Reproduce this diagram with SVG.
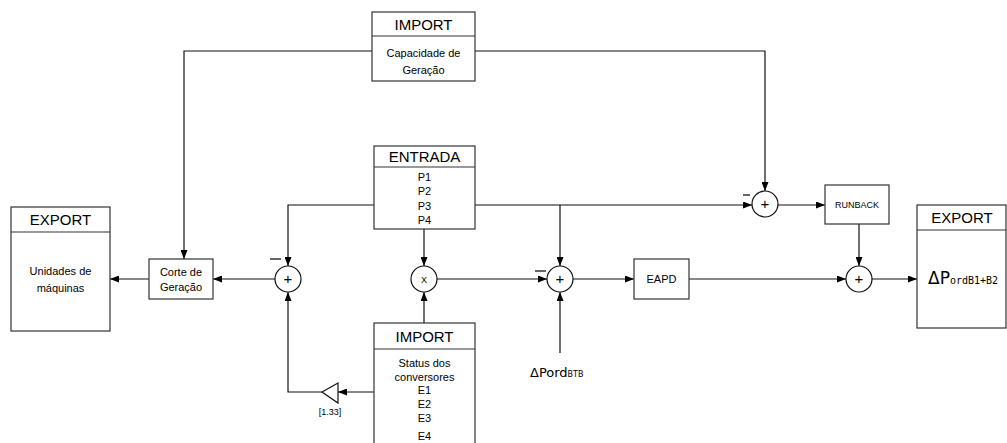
<svg xmlns="http://www.w3.org/2000/svg" width="1007" height="443" viewBox="0 0 1007 443">
<style>
.box{fill:#fff;stroke:#333;stroke-width:1.2}
.ln{fill:none;stroke:#111;stroke-width:1.2}
.c{fill:#fff;stroke:#111;stroke-width:1.2}
.h{font-family:"Liberation Sans",Arial,sans-serif;font-size:15px;text-anchor:middle;fill:#000}
.t{font-family:"Liberation Sans",Arial,sans-serif;font-size:11px;text-anchor:middle;fill:#000}
.s{font-family:"Liberation Sans",Arial,sans-serif;font-size:9px;text-anchor:middle;fill:#000}
.op{font-family:"Liberation Sans",Arial,sans-serif;font-size:15px;text-anchor:middle;fill:#000}
.m{stroke:#000;stroke-width:1.2}
</style>
<defs>
<marker id="ar" markerWidth="9" markerHeight="7" refX="9" refY="3.5" orient="auto" markerUnits="userSpaceOnUse">
<path d="M0,0 L9,3.5 L0,7 z" fill="#000"/>
</marker>
</defs>
<g id="connectors">
<polyline class="ln" points="372,51 184,51 184,259" marker-end="url(#ar)"/>
<polyline class="ln" points="475,51 765,51 765,191" marker-end="url(#ar)"/>
<polyline class="ln" points="374,205 288,205 288,266" marker-end="url(#ar)"/>
<polyline class="ln" points="475,205 752,205" marker-end="url(#ar)"/>
<polyline class="ln" points="560,205 560,266" marker-end="url(#ar)"/>
<line class="ln" x1="424" y1="229" x2="424" y2="266" marker-end="url(#ar)"/>
<line class="ln" x1="424" y1="323" x2="424" y2="292" marker-end="url(#ar)"/>
<line class="ln" x1="437" y1="279" x2="547" y2="279" marker-end="url(#ar)"/>
<line class="ln" x1="560" y1="353" x2="560" y2="292" marker-end="url(#ar)"/>
<line class="ln" x1="573" y1="279" x2="634" y2="279" marker-end="url(#ar)"/>
<line class="ln" x1="689" y1="279" x2="846" y2="279" marker-end="url(#ar)"/>
<line class="ln" x1="778" y1="205" x2="825" y2="205" marker-end="url(#ar)"/>
<line class="ln" x1="859" y1="224" x2="859" y2="266" marker-end="url(#ar)"/>
<line class="ln" x1="872" y1="279" x2="917" y2="279" marker-end="url(#ar)"/>
<line class="ln" x1="275" y1="279" x2="213" y2="279" marker-end="url(#ar)"/>
<line class="ln" x1="149" y1="279" x2="110" y2="279" marker-end="url(#ar)"/>
<line class="ln" x1="374" y1="392" x2="338" y2="392" marker-end="url(#ar)"/>
<polyline class="ln" points="322,392 288,392 288,292" marker-end="url(#ar)"/>
</g>
<g id="import-capacidade">
<rect class="box" x="372" y="12" width="103" height="69"/>
<line class="box" x1="372" y1="36" x2="475" y2="36"/>
<text class="h" x="423.5" y="30">IMPORT</text>
<text class="t" x="423.5" y="57">Capacidade de</text>
<text class="t" x="423.5" y="74">Geração</text>
</g>
<g id="entrada">
<rect class="box" x="374" y="146" width="101" height="83"/>
<line class="box" x1="374" y1="167" x2="475" y2="167"/>
<text class="h" x="424.5" y="162">ENTRADA</text>
<text class="t" x="424.5" y="181">P1</text>
<text class="t" x="424.5" y="195">P2</text>
<text class="t" x="424.5" y="210">P3</text>
<text class="t" x="424.5" y="224">P4</text>
</g>
<g id="export-unidades">
<rect class="box" x="11" y="207" width="99" height="124"/>
<line class="box" x1="11" y1="232" x2="110" y2="232"/>
<text class="h" x="60.5" y="225">EXPORT</text>
<text class="t" x="60.5" y="275">Unidades de</text>
<text class="t" x="60.5" y="292">máquinas</text>
</g>
<g id="corte">
<rect class="box" x="149" y="259" width="64" height="40"/>
<text class="t" x="181" y="276">Corte de</text>
<text class="t" x="181" y="291">Geração</text>
</g>
<g id="sum1">
<circle class="c" cx="288" cy="279" r="13"/>
<text class="op" x="288" y="284">+</text>
<line class="m" x1="270" y1="259" x2="281" y2="259"/>
</g>
<g id="mult">
<circle class="c" cx="424" cy="279" r="13"/>
<text class="s" x="424" y="283">X</text>
</g>
<g id="sum2">
<circle class="c" cx="560" cy="279" r="13"/>
<text class="op" x="560" y="284">+</text>
<line class="m" x1="535" y1="271" x2="546" y2="271"/>
</g>
<g id="eapd">
<rect class="box" x="634" y="259" width="55" height="40"/>
<text class="t" x="661.5" y="283">EAPD</text>
</g>
<g id="sum3">
<circle class="c" cx="765" cy="204" r="13"/>
<text class="op" x="765" y="209">+</text>
<line class="m" x1="743" y1="195" x2="750" y2="195"/>
</g>
<g id="runback">
<rect class="box" x="825" y="185" width="64" height="39"/>
<text class="s" x="857" y="208">RUNBACK</text>
</g>
<g id="sum4">
<circle class="c" cx="859" cy="279" r="13"/>
<text class="op" x="859" y="284">+</text>
</g>
<g id="export-dp">
<rect class="box" x="917" y="205" width="89" height="123"/>
<line class="box" x1="917" y1="230" x2="1006" y2="230"/>
<text class="h" x="962" y="223">EXPORT</text>
<text x="928" y="284" font-family="DejaVu Sans,sans-serif" font-size="17" fill="#000">ΔP<tspan font-family="DejaVu Sans Mono,monospace" font-size="10">ordB1+B2</tspan></text>
</g>
<g id="import-status">
<rect class="box" x="374" y="323" width="101" height="125"/>
<line class="box" x1="374" y1="349" x2="475" y2="349"/>
<text class="h" x="424.5" y="342">IMPORT</text>
<text class="t" x="424.5" y="367">Status dos</text>
<text class="t" x="424.5" y="381">conversores</text>
<text class="t" x="424.5" y="394">E1</text>
<text class="t" x="424.5" y="408">E2</text>
<text class="t" x="424.5" y="422">E3</text>
<text class="t" x="424.5" y="440">E4</text>
</g>
<g id="gain">
<polygon class="c" points="338,383 338,403 322,392"/>
<text class="s" x="330" y="415">[1.33]</text>
</g>
<g id="dpord-btb">
<text x="530" y="377" font-family="DejaVu Sans,sans-serif" font-size="13" fill="#000">ΔPord<tspan font-family="DejaVu Sans,sans-serif" font-size="8">BTB</tspan></text>
</g>
</svg>
